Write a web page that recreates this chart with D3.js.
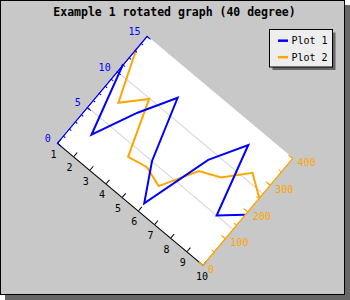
<!DOCTYPE html>
<html>
<head>
<meta charset="utf-8">
<script src="https://cdn.jsdelivr.net/npm/d3@7"></script>
<style>
body { margin: 0; }
text { font-family: "DejaVu Sans Mono", monospace; }
</style>
</head>
<body>
<script>
var xLabels = [1, 2, 3, 4, 5, 6, 7, 8, 9, 10];
var plot1 = [11, 3, 8, 12, 5, 1, 9, 13, 5, 7];
var plot2 = [354, 200, 265, 99, 111, 91, 198, 225, 293, 251];
var yTicks = [0, 5, 10, 15];
var y2Ticks = [0, 100, 200, 300, 400];
var seriesNames = ["Plot 1", "Plot 2"];
var seriesColors = ["#0000ff", "#ffa500"];

var width = 350,
    height = 300;

// plot area before rotation, rotated round its centre
var cx = 175, cy = 150.2, w = 190, h = 139.5, angle = 40;
var rad = angle * Math.PI / 180;

function toScreen(px, py) {
  var lx = px - w / 2, ly = py - h / 2;
  return [cx + lx * Math.cos(rad) - ly * Math.sin(rad),
          cy + lx * Math.sin(rad) + ly * Math.cos(rad)];
}

var svg = d3.select("body").append("svg")
    .attr("width", width)
    .attr("height", height);

// frame with shadow
svg.append("rect").attr("x", 5).attr("y", 5).attr("width", 345).attr("height", 295).attr("fill", "#666");
svg.append("rect").attr("x", 0.5).attr("y", 0.5).attr("width", 344).attr("height", 294)
    .attr("fill", "#c8c8c8").attr("stroke", "#000");

svg.append("text")
    .attr("x", 174.5).attr("y", 15.5)
    .attr("text-anchor", "middle")
    .style("font-size", "11.5px").style("font-weight", "bold")
    .text("Example 1 rotated graph (40 degree)");

var x = d3.scaleLinear().domain([1, 10]).range([0, w]);
var y = d3.scaleLinear().domain([0, 15]).range([h, 0]);
var y2 = d3.scaleLinear().domain([0, 400]).range([h, 0]);

var plot = svg.append("g")
    .attr("transform", "translate(" + cx + "," + cy + ") rotate(" + angle + ") translate(" + (-w / 2) + "," + (-h / 2) + ")");

plot.append("rect").attr("width", w).attr("height", h).attr("fill", "#fff");

plot.selectAll(".grid")
    .data(yTicks.slice(1, -1))
  .enter().append("line")
    .attr("class", "grid")
    .attr("x1", 0).attr("x2", w)
    .attr("y1", function(d) { return y(d); })
    .attr("y2", function(d) { return y(d); })
    .attr("stroke", "#d4d4d4");

var line1 = d3.line()
    .x(function(d, i) { return x(xLabels[i]); })
    .y(function(d) { return y(d); });
var line2 = d3.line()
    .x(function(d, i) { return x(xLabels[i]); })
    .y(function(d) { return y2(d); });

plot.append("path").datum(plot2)
    .attr("d", line2).attr("fill", "none")
    .attr("stroke", seriesColors[1]).attr("stroke-width", 2);
plot.append("path").datum(plot1)
    .attr("d", line1).attr("fill", "none")
    .attr("stroke", seriesColors[0]).attr("stroke-width", 2);

// axes, ticks pointing into the plot
plot.append("g")
    .attr("transform", "translate(0," + h + ")")
    .attr("color", "#000")
    .call(d3.axisBottom(x).tickValues(xLabels).tickSize(-5).tickSizeOuter(0).tickFormat(""));

plot.append("g")
    .attr("color", seriesColors[0])
    .call(d3.axisLeft(y).tickValues(d3.range(0, 16)).tickSize(-3).tickSizeOuter(0).tickFormat(""));
plot.append("g")
    .attr("color", seriesColors[0])
    .call(d3.axisLeft(y).tickValues(yTicks).tickSize(-5).tickSizeOuter(0).tickFormat(""));

plot.append("g")
    .attr("transform", "translate(" + w + ",0)")
    .attr("color", seriesColors[1])
    .call(d3.axisRight(y2).tickValues(d3.range(0, 401, 50)).tickSize(-3).tickSizeOuter(0).tickFormat(""));
plot.append("g")
    .attr("transform", "translate(" + w + ",0)")
    .attr("color", seriesColors[1])
    .call(d3.axisRight(y2).tickValues(y2Ticks).tickSize(-5).tickSizeOuter(0).tickFormat(""));

// upright tick labels
svg.selectAll(".xlab")
    .data(xLabels)
  .enter().append("text")
    .attr("class", "xlab")
    .attr("x", function(d) { return toScreen(x(d), h)[0] - 7; })
    .attr("y", function(d) { return toScreen(x(d), h)[1] + 15; })
    .style("font-size", "10px")
    .attr("fill", "#000")
    .text(function(d) { return d; });

svg.selectAll(".ylab")
    .data(yTicks)
  .enter().append("text")
    .attr("class", "ylab")
    .attr("text-anchor", "end")
    .attr("x", function(d) { return toScreen(0, y(d))[0] - 6.5; })
    .attr("y", function(d) { return toScreen(0, y(d))[1] - 0.5; })
    .style("font-size", "10px")
    .attr("fill", seriesColors[0])
    .text(function(d) { return d; });

svg.selectAll(".y2lab")
    .data(y2Ticks)
  .enter().append("text")
    .attr("class", "y2lab")
    .attr("x", function(d) { return toScreen(w, y2(d))[0] + 5; })
    .attr("y", function(d) { return toScreen(w, y2(d))[1] + 8.5; })
    .style("font-size", "10px")
    .attr("fill", seriesColors[1])
    .text(function(d) { return d; });

// legend
var legend = svg.append("g");
legend.append("rect").attr("x", 272.5).attr("y", 32.5).attr("width", 63).attr("height", 37.5).attr("fill", "#666");
legend.append("rect").attr("x", 269.5).attr("y", 29.5).attr("width", 63).attr("height", 37.5)
    .attr("fill", "#eee").attr("stroke", "#000");

legend.selectAll(".item")
    .data(seriesNames)
  .enter().append("g")
    .attr("transform", function(d, i) { return "translate(0," + (40.7 + i * 16.5) + ")"; })
    .each(function(d, i) {
      var g = d3.select(this);
      g.append("line").attr("x1", 278).attr("x2", 288)
          .attr("stroke", seriesColors[i]).attr("stroke-width", 2.5);
      g.append("text").attr("x", 291.5).attr("y", 3.6)
          .style("font-size", "10px").attr("fill", "#000").text(d);
    });
</script>
</body>
</html>
